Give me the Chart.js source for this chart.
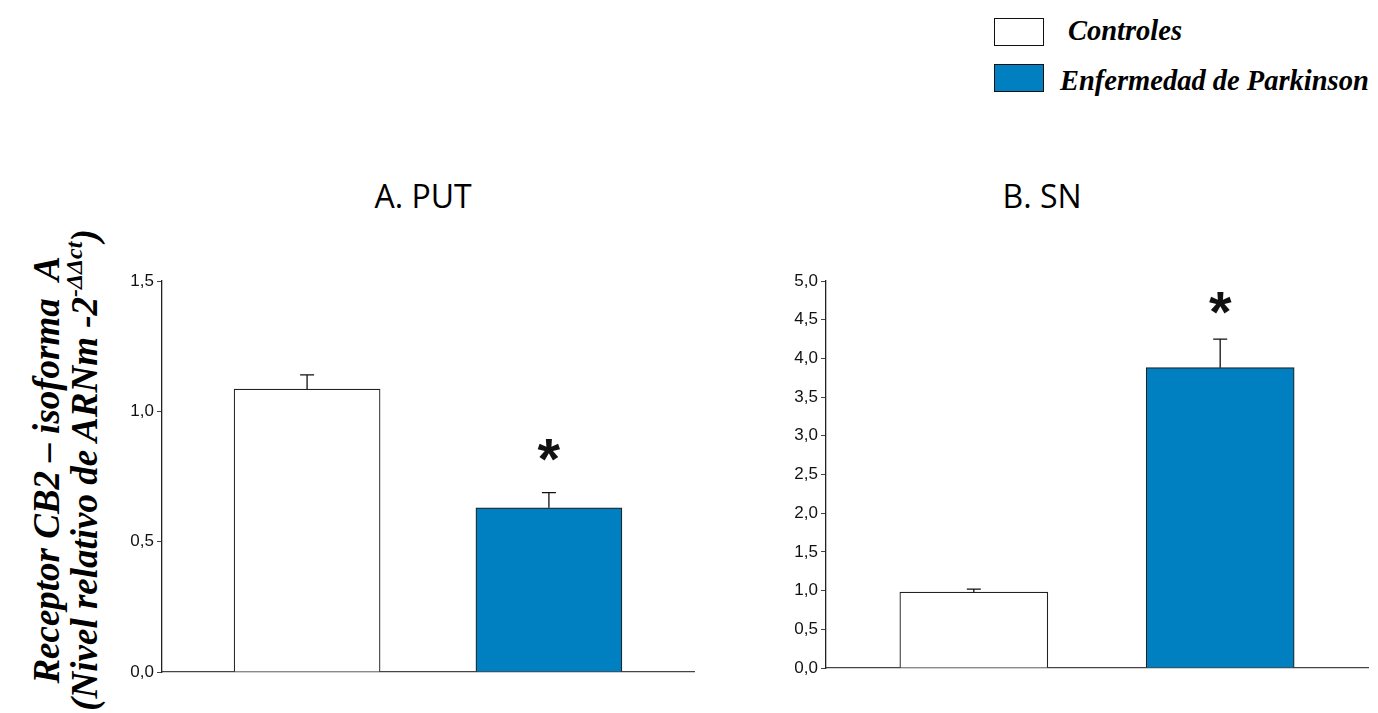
<!DOCTYPE html>
<html>
<head>
<meta charset="utf-8">
<script src="https://cdn.jsdelivr.net/npm/chart.js@4.4.1/dist/chart.umd.min.js"></script>
<style>
    body { margin: 0; width: 1378px; height: 713px; background: #fff; position: relative; overflow: hidden; }
    .abs { position: absolute; }
    .panel-title { font-family: 'Open Sans', sans-serif; font-size: 32px; color: #000; transform: translateX(-50%); white-space: nowrap; }
    .legend-box { width: 50px; height: 28px; border: 1.5px solid #111; box-sizing: border-box; }
    .legend-text { font-family: 'Liberation Serif', 'Times New Roman', serif; font-weight: bold; font-style: italic; font-size: 28.5px; color: #000; white-space: nowrap; }
    .ytitle { font-family: 'Liberation Serif', 'Times New Roman', serif; font-weight: bold; font-style: italic; font-size: 37px; color: #000; white-space: nowrap;
              transform: translate(-50%, -50%) rotate(-90deg); line-height: 38px; text-align: center; }
    .ytitle sup { font-size: 24px; vertical-align: 15px; line-height: 0; }
    canvas { position: absolute; }
</style>
</head>
<body>

<div class="abs legend-box" style="left:994px; top:18px; background:#fff;"></div>
<div class="abs legend-text" style="left:1068px; top:15px;">Controles</div>
<div class="abs legend-box" style="left:994px; top:64px; background:#0080c0;"></div>
<div class="abs legend-text" style="left:1060px; top:65px;">Enfermedad de Parkinson</div>

<div class="abs panel-title" style="left:423px; top:174px;">A. PUT</div>
<div class="abs panel-title" style="left:1042px; top:174px;">B. SN</div>

<div class="abs ytitle" style="left:66px; top:470px;">Receptor CB2 – isoforma&nbsp; A<br>(Nivel relativo de ARNm -2<sup>-ΔΔct</sup>)</div>

<div class="abs" style="left:100px; top:250px; width:610px; height:440px;"><canvas id="chartPut"></canvas></div>
<div class="abs" style="left:760px; top:250px; width:618px; height:440px;"><canvas id="chartSn"></canvas></div>

<script>
// ---- data ----
const groups = ['Controles', 'Enfermedad de Parkinson'];
const groupPos = [1, 2];
const groupColors = ['#ffffff', '#0080c0'];

const putMeans = [1.085, 0.63];
const putErrors = [0.055, 0.058];
const putSignificant = [false, true];

const snMeans = [0.98, 3.88];
const snErrors = [0.04, 0.37];
const snSignificant = [false, true];

const putTicks = [0, 0.5, 1.0, 1.5];
const snTicks = [0, 0.5, 1.0, 1.5, 2.0, 2.5, 3.0, 3.5, 4.0, 4.5, 5.0];

// error bars + significance stars
const errorBarPlugin = {
    id: 'errorBars',
    afterDatasetsDraw(chart) {
        const ctx = chart.ctx;
        const y = chart.scales.y;
        const x = chart.scales.x;
        const opts = chart.options.plugins.errorBars;
        opts.means.forEach((m, i) => {
            const cx = x.getPixelForValue(groupPos[i]);
            const top = y.getPixelForValue(m);
            const cap = y.getPixelForValue(m + opts.errors[i]);
            ctx.save();
            ctx.strokeStyle = '#111';
            ctx.lineWidth = 1.3;
            ctx.beginPath();
            ctx.moveTo(cx, top);
            ctx.lineTo(cx, cap);
            ctx.moveTo(cx - 7, cap);
            ctx.lineTo(cx + 7, cap);
            ctx.stroke();
            if (opts.significant[i]) {
                ctx.fillStyle = '#111';
                ctx.font = 'bold 58px "Liberation Sans", Arial, sans-serif';
                ctx.textAlign = 'center';
                ctx.textBaseline = 'alphabetic';
                ctx.fillText('*', cx, cap + opts.starOffset);
            }
            ctx.restore();
        });
    }
};

function commaTick(v) {
    return v.toFixed(1).replace('.', ',');
}

function makeChart(id, means, errors, significant, ticks, yMax, axisWidth, pad, barW, starOffset) {
    return new Chart(document.getElementById(id), {
        type: 'bar',
        data: {
            datasets: [{
                data: means.map((m, i) => ({ x: groupPos[i], y: m })),
                backgroundColor: groupColors,
                borderColor: '#222',
                borderWidth: 1.2,
                borderSkipped: 'bottom',
                barThickness: barW
            }]
        },
        options: {
            responsive: true,
            maintainAspectRatio: false,
            animation: false,
            layout: { padding: pad },
            plugins: {
                legend: { display: false },
                tooltip: { enabled: false },
                errorBars: { means: means, errors: errors, significant: significant, starOffset: starOffset }
            },
            scales: {
                x: {
                    type: 'linear',
                    offset: false,
                    min: 0.4,
                    max: 2.6,
                    grid: { display: false },
                    ticks: { display: false },
                    border: { display: true, color: '#444', width: 1.3 },
                    afterFit(scale) { scale.height = 0; }
                },
                y: {
                    min: 0,
                    max: yMax,
                    afterBuildTicks(scale) { scale.ticks = ticks.map(v => ({ value: v })); },
                    grid: { drawOnChartArea: false, drawTicks: true, tickLength: 5, color: '#444', lineWidth: 1 },
                    border: { display: true, color: '#222', width: 1.3 },
                    ticks: {
                        color: '#111',
                        padding: 3,
                        font: { family: '"Liberation Sans", Arial, sans-serif', size: 17 },
                        callback: v => commaTick(v)
                    },
                    afterFit(scale) { scale.width = axisWidth; }
                }
            }
        },
        plugins: [errorBarPlugin]
    });
}

makeChart('chartPut', putMeans, putErrors, putSignificant, putTicks, 1.5, 62,
    { top: 31, right: 16, bottom: 18, left: 0 }, 146, -14);
makeChart('chartSn', snMeans, snErrors, snSignificant, snTicks, 5.0, 66,
    { top: 31, right: 10, bottom: 22, left: 0 }, 148, -7);
</script>
</body>
</html>
